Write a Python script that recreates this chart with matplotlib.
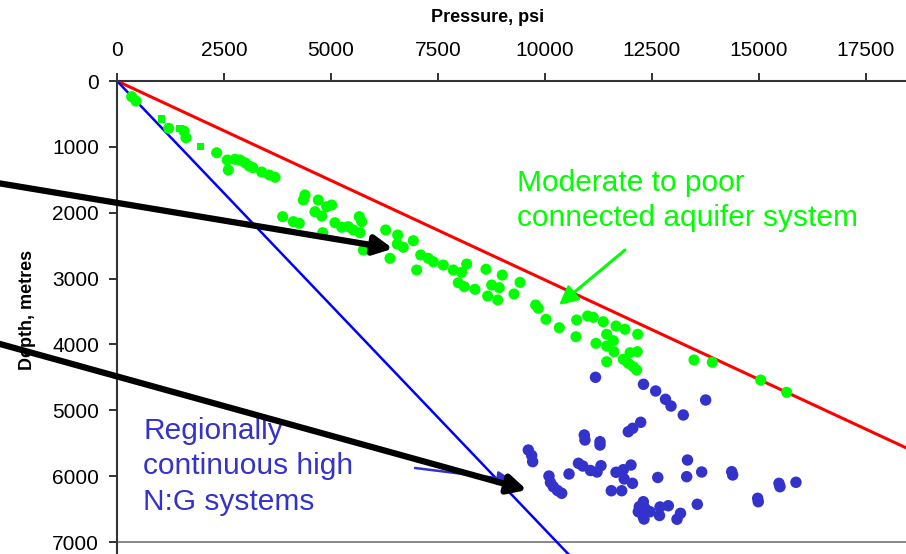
import matplotlib
matplotlib.use("Agg")
import matplotlib.pyplot as plt
import numpy as np

plt.rcParams['font.family'] = ['Liberation Sans', 'DejaVu Sans']

# ---------------- data ----------------
green_psi = [343, 444, 1208, 1612, 1565, 2329, 2577, 2757, 2874, 2991, 3091, 3171, 2600, 3381, 3558, 3692,
             4392, 4353, 4703, 5016, 4899, 4626, 4783, 3871, 4119, 4259, 5093, 5250, 5404, 5661, 5717,
             5521, 5677, 4806, 5755, 6278, 6558, 6549, 6689, 6923, 6378, 7096, 7273, 7390, 7002, 7624,
             7857, 8053, 8170, 8621, 9002, 9416, 7974, 8114, 8364, 8754, 8932, 8661, 8895, 9275, 9782,
             9843, 10023, 10334, 10740, 10997, 11128, 11362, 11659, 11869, 12166, 10724, 11191, 11441,
             11596, 11441, 11612, 11986, 12156, 11441, 11829, 11946, 12063, 12142, 13481, 13909, 15039,
             15647]
green_depth = [238, 304, 718, 861, 760, 1089, 1200, 1189, 1200, 1241, 1291, 1316, 1351, 1382, 1427, 1462,
               1731, 1807, 1807, 1883, 1909, 1985, 2050, 2060, 2136, 2161, 2152, 2221, 2212, 2060, 2136,
               2262, 2303, 2303, 2566, 2262, 2338, 2475, 2525, 2425, 2692, 2642, 2692, 2744, 2870, 2794,
               2870, 2905, 2779, 2859, 2946, 3057, 3063, 3123, 3163, 3098, 3138, 3265, 3325, 3234, 3401,
               3451, 3618, 3746, 3629, 3568, 3588, 3655, 3720, 3770, 3846, 3883, 3983, 3846,
               3943, 4024, 4110, 4125, 4110, 4262, 4226, 4286, 4338, 4388, 4236, 4271, 4540,
               4727]

green_sq_psi = [1044, 1472, 1956]
green_sq_depth = [577, 721, 992]

blue_psi = [11180, 12301, 12586, 12815, 12944, 13754, 13231, 12236, 12049, 11946, 10918, 10934, 11285,
            11285, 9610, 9689, 9712, 13329, 10782, 10883, 11308, 12009, 11063, 11215, 10561, 10093, 10128,
            10194, 10292, 10390, 11659, 11829, 11850, 12044, 11549, 11792, 12635, 13310, 13661, 14362,
            14385, 15467, 15490, 15864, 14969, 14983, 12203, 12297, 12336, 12297, 12453, 12687, 12675,
            12881, 13166, 13084, 13558, 12180, 12313]
blue_depth = [4499, 4605, 4707, 4833, 4935, 4844, 5071, 5182, 5273, 5325, 5375, 5451, 5477,
              5527, 5603, 5686, 5780, 5755, 5805, 5846, 5841, 5831, 5914, 5937, 5967, 5998, 6096,
              6160, 6218, 6260, 5941, 5902, 6043, 6109, 6221, 6221, 6020, 6008, 5937, 5932,
              5982, 6109, 6160, 6093, 6336, 6388, 6464, 6388, 6488, 6616, 6540, 6468, 6597,
              6449, 6564, 6654, 6427, 6540, 6651]

lithostatic_gradient = 3.31   # psi per metre (red line)
hydrostatic_gradient = 1.468  # psi per metre (blue line)

x_ticks = [0, 2500, 5000, 7500, 10000, 12500, 15000, 17500]
y_ticks = [0, 1000, 2000, 3000, 4000, 5000, 6000, 7000]

# annotation anchor points (psi, depth)
arrow1_tail, arrow1_tip = (-2967, 1530), (6448, 2545)
arrow2_tail, arrow2_tip = (-2967, 3951), (9579, 6210)
blue_arrow_tail, blue_arrow_tip = (6962, 5876), (9229, 6058)
green_arrow_tail, green_arrow_tip = (11869, 2566), (10327, 3401)

# ---------------- figure ----------------
W, H = 906, 554
fig = plt.figure(figsize=(W / 100, H / 100), dpi=100)
ax = fig.add_axes([117 / W, 0, (W - 117) / W, (H - 81) / H])

xmax = (W - 117) / 0.0428
ymax = (H - 81) / 0.06586
ax.set_xlim(0, xmax)
ax.set_ylim(ymax, 0)

ax.xaxis.tick_top()
ax.set_xticks(x_ticks)
ax.set_yticks(y_ticks)
ax.tick_params(axis='both', direction='out', length=6, width=1.4, colors='#333333',
               labelcolor='black', labelsize=15)
ax.tick_params(axis='x', pad=9)
ax.tick_params(axis='y', pad=7)
for s in ['right', 'bottom']:
    ax.spines[s].set_visible(False)
for s in ['top', 'left']:
    ax.spines[s].set_color('#333333')
    ax.spines[s].set_linewidth(1.5)

ax.axhline(7000, color='#888888', lw=1.4, zorder=1)

# gradient lines
px = np.array([0, 20000])
ax.plot(px, px / lithostatic_gradient, color='#FF0000', lw=2.2, zorder=2)
ax.plot(px, px / hydrostatic_gradient, color='#0000FF', lw=1.8, zorder=2)

# data points
ax.scatter(green_psi, green_depth, s=64, color='#00FF00', edgecolors='none', zorder=3)
ax.scatter(green_sq_psi, green_sq_depth, s=28, marker='s', color='#00FF00', edgecolors='none', zorder=3)
ax.scatter(blue_psi, blue_depth, s=68, color='#3333CC', edgecolors='none', zorder=3)

# labels
fig.text(488 / W, 1 - 17 / H, 'Pressure, psi', fontsize=13, fontweight='bold',
         ha='center', va='center')
fig.text(28 / W, 1 - 310 / H, 'Depth, metres', fontsize=13, fontweight='bold',
         ha='center', va='center', rotation=90)

# annotation texts
ax.text(517 / W, 1 - 169 / H, 'Moderate to poor\nconnected aquifer system', transform=fig.transFigure,
        color='#00FF00', fontsize=21.5, ha='left', va='top', linespacing=1.32, zorder=4)
ax.text(143 / W, 1 - 417 / H, 'Regionally\ncontinuous high\nN:G systems', transform=fig.transFigure,
        color='#3333CC', fontsize=21.5, ha='left', va='top', linespacing=1.34, zorder=4)

# arrows
ax.annotate('', xy=green_arrow_tip, xytext=green_arrow_tail, annotation_clip=False,
            arrowprops=dict(arrowstyle='-|>,head_length=0.7,head_width=0.35', mutation_scale=16,
                            lw=2.2, color='#00FF00', shrinkA=0, shrinkB=0), zorder=4)
ax.annotate('', xy=blue_arrow_tip, xytext=blue_arrow_tail, annotation_clip=False,
            arrowprops=dict(arrowstyle='-|>,head_length=0.6,head_width=0.3', mutation_scale=14,
                            lw=1.8, color='#3333CC', shrinkA=0, shrinkB=0), zorder=4)
for tail, tip in [(arrow1_tail, arrow1_tip), (arrow2_tail, arrow2_tip)]:
    ax.annotate('', xy=tip, xytext=tail, annotation_clip=False,
                arrowprops=dict(arrowstyle='-|>,head_length=0.55,head_width=0.28', mutation_scale=20,
                                lw=4.5, color='black', shrinkA=0, shrinkB=0), zorder=6)

fig.savefig('out.png', dpi=100)
